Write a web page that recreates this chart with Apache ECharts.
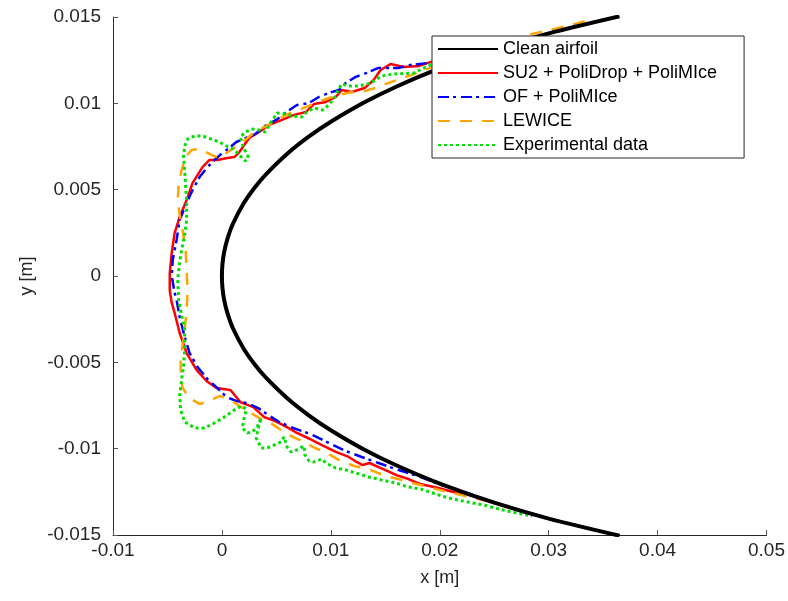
<!DOCTYPE html>
<html><head><meta charset="utf-8">
<script src="https://cdn.jsdelivr.net/npm/echarts@6/dist/echarts.min.js"></script>
<style>html,body{margin:0;padding:0;background:#fff}#c{width:788px;height:601px}</style>
</head><body><div id="c"></div>
<script>
const seriesNames = ['Clean airfoil', 'SU2 + PoliDrop + PoliMIce', 'OF + PoliMIce', 'LEWICE', 'Experimental data'];
const xLimits = [-0.01, 0.05], xStep = 0.01;
const yLimits = [-0.015, 0.015], yStep = 0.005;
const xLabel = 'x [m]', yLabel = 'y [m]';

const cleanAirfoil = [[0.0365,0.01504],[0.03,0.01405],[0.025,0.01313],[0.02,0.01202],[0.016,0.01096],[0.013,0.01003],[0.01,0.00893],[0.008,0.00808],[0.006,0.00708],[0.004,0.00586],[0.003,0.00511],[0.002,0.00421],[0.001,0.00301],[0.0005,0.00214],[0.0002,0.00137],[0.00005,0.00069],[0,0],[0.00005,-0.00069],[0.0002,-0.00137],[0.0005,-0.00214],[0.001,-0.00301],[0.002,-0.00421],[0.003,-0.00511],[0.004,-0.00586],[0.006,-0.00708],[0.008,-0.00808],[0.01,-0.00893],[0.013,-0.01003],[0.016,-0.01096],[0.02,-0.01202],[0.025,-0.01313],[0.03,-0.01405],[0.0365,-0.01504]];

const su2PoliDrop = [[0.025,0.01313],[0.0215,0.0127],[0.01913,0.01239],[0.01804,0.01216],[0.01667,0.01211],[0.01548,0.01228],[0.01457,0.01193],[0.01393,0.01135],[0.0131,0.01089],[0.01192,0.01066],[0.011,0.01077],[0.01046,0.01037],[0.00954,0.01008],[0.00845,0.00996],[0.00772,0.0095],[0.00662,0.00933],[0.00552,0.00904],[0.00434,0.00875],[0.00342,0.00834],[0.00251,0.00799],[0.00205,0.00759],[0.0016,0.00718],[0.00114,0.00689],[0.0005,0.00683],[-0.00041,0.00672],[-0.00114,0.00672],[-0.00178,0.00631],[-0.00269,0.00539],[-0.00324,0.0044],[-0.00388,0.00342],[-0.00434,0.00249],[-0.00461,0.00133],[-0.00479,0.00017],[-0.00479,-0.00081],[-0.00461,-0.00156],[-0.00434,-0.00214],[-0.00388,-0.0033],[-0.00324,-0.00446],[-0.00233,-0.00544],[-0.00142,-0.00608],[-0.0005,-0.00649],[0.00078,-0.0066],[0.00169,-0.0073],[0.00288,-0.00759],[0.00388,-0.00817],[0.00489,-0.0084],[0.00598,-0.00875],[0.00689,-0.00909],[0.00808,-0.00944],[0.00918,-0.00979],[0.01046,-0.01019],[0.01164,-0.01048],[0.01237,-0.01077],[0.01292,-0.01095],[0.01356,-0.01083],[0.01438,-0.01107],[0.01502,-0.01124],[0.01603,-0.01153],[0.01712,-0.01176],[0.01822,-0.01205],[0.01986,-0.01228],[0.02123,-0.01251],[0.0226,-0.01263],[0.025,-0.01313],[0.03,-0.01405],[0.0365,-0.01504]];

const ofPoliMIce = [[0.025,0.01313],[0.0215,0.0127],[0.01895,0.01234],[0.0173,0.01222],[0.01621,0.01205],[0.01438,0.01205],[0.01329,0.01176],[0.01228,0.01153],[0.01137,0.01118],[0.01073,0.01077],[0.00982,0.0106],[0.0089,0.01037],[0.00799,0.01002],[0.00689,0.0099],[0.00607,0.00956],[0.00498,0.00904],[0.00397,0.00869],[0.00306,0.00822],[0.00215,0.00799],[0.00132,0.00776],[0.00068,0.00741],[-0.00005,0.00707],[-0.00068,0.00672],[-0.00132,0.00631],[-0.00205,0.00573],[-0.00269,0.00498],[-0.00324,0.00423],[-0.00388,0.00324],[-0.00416,0.00209],[-0.00452,0.00093],[-0.00461,0],[-0.00434,-0.00098],[-0.00416,-0.00139],[-0.00388,-0.00237],[-0.00342,-0.00353],[-0.00297,-0.00446],[-0.00224,-0.00527],[-0.00132,-0.00597],[-0.00041,-0.00649],[0.00041,-0.00701],[0.00132,-0.00724],[0.00233,-0.00736],[0.00333,-0.00765],[0.00425,-0.00805],[0.00525,-0.00846],[0.00653,-0.0088],[0.00763,-0.00904],[0.00854,-0.00927],[0.00982,-0.00967],[0.01137,-0.01014],[0.01283,-0.01048],[0.01438,-0.01083],[0.01594,-0.01118],[0.01712,-0.01141],[0.01849,-0.0117],[0.02014,-0.01211],[0.02151,-0.01234],[0.025,-0.01313],[0.03,-0.01405],[0.0365,-0.01504]];

const lewice = [[0.0333,0.01475],[0.03242,0.0146],[0.03014,0.01425],[0.02763,0.0139],[0.02352,0.01309],[0.01913,0.01205],[0.01712,0.01158],[0.0153,0.01118],[0.01411,0.01089],[0.01283,0.01066],[0.01192,0.01066],[0.01073,0.01048],[0.00954,0.01025],[0.00863,0.01002],[0.00772,0.00979],[0.0068,0.00956],[0.00589,0.00933],[0.00479,0.00892],[0.0037,0.00857],[0.00269,0.00817],[0.00142,0.00753],[0.00068,0.00724],[-0.00023,0.00683],[-0.00096,0.00701],[-0.00205,0.00736],[-0.00279,0.0073],[-0.00333,0.00689],[-0.0037,0.00614],[-0.00397,0.00527],[-0.00406,0.0044],[-0.00388,0.00353],[-0.00361,0.00266],[-0.00333,0.00151],[-0.00324,0.00035],[-0.00315,-0.00081],[-0.00324,-0.00197],[-0.00342,-0.00313],[-0.00361,-0.004],[-0.00379,-0.00487],[-0.00379,-0.00573],[-0.00361,-0.00649],[-0.00297,-0.00707],[-0.00205,-0.00741],[-0.00114,-0.00724],[-0.00023,-0.00695],[0.00068,-0.00712],[0.0016,-0.00753],[0.00251,-0.00788],[0.00342,-0.00822],[0.00434,-0.00846],[0.00543,-0.00892],[0.00653,-0.00933],[0.00753,-0.00961],[0.00854,-0.00996],[0.00963,-0.01025],[0.01091,-0.01072],[0.01219,-0.01101],[0.01365,-0.01124],[0.01502,-0.01158],[0.01621,-0.01176],[0.01749,-0.01199],[0.01895,-0.01222],[0.02005,-0.0124],[0.02123,-0.01257],[0.025,-0.01313],[0.03,-0.01405],[0.0365,-0.01504]];

const experimental = [[0.02077,0.01262],[0.01894,0.01216],[0.01758,0.01175],[0.01575,0.0117],[0.01465,0.01158],[0.01365,0.01117],[0.01255,0.011],[0.01164,0.011],[0.011,0.01112],[0.01073,0.01083],[0.01036,0.01036],[0.00981,0.0099],[0.00927,0.00961],[0.00845,0.00973],[0.00781,0.0095],[0.00735,0.00921],[0.00662,0.00926],[0.00589,0.00938],[0.00507,0.00944],[0.00452,0.00892],[0.00397,0.00834],[0.00342,0.00845],[0.00278,0.00851],[0.00215,0.00834],[0.00169,0.00805],[0.00196,0.00747],[0.00242,0.00689],[0.00215,0.00666],[0.0016,0.00701],[0.00105,0.00735],[0.00041,0.00753],[-0.00023,0.00776],[-0.00096,0.00793],[-0.00178,0.00811],[-0.00251,0.00811],[-0.00315,0.00793],[-0.00342,0.00753],[-0.00352,0.00689],[-0.00342,0.00614],[-0.00333,0.00515],[-0.00324,0.0044],[-0.00324,0.00324],[-0.00342,0.00237],[-0.0037,0.00151],[-0.00388,0.00081],[-0.00406,-0.00023],[-0.00397,-0.00139],[-0.0037,-0.00226],[-0.00342,-0.00313],[-0.00342,-0.00428],[-0.00352,-0.00515],[-0.0037,-0.00602],[-0.00388,-0.00689],[-0.00379,-0.00776],[-0.00342,-0.00845],[-0.00251,-0.0088],[-0.0016,-0.0088],[-0.00068,-0.00851],[0.00023,-0.00816],[0.00114,-0.00776],[0.00178,-0.00753],[0.00224,-0.0077],[0.00205,-0.00822],[0.00187,-0.0088],[0.00233,-0.00909],[0.00278,-0.00903],[0.00324,-0.00874],[0.00361,-0.00822],[0.00333,-0.0088],[0.00315,-0.00938],[0.00361,-0.00996],[0.00415,-0.00996],[0.00479,-0.00979],[0.00543,-0.00961],[0.00571,-0.00932],[0.00598,-0.0099],[0.00635,-0.01019],[0.00689,-0.01007],[0.00753,-0.00984],[0.00762,-0.01036],[0.00799,-0.01071],[0.00845,-0.01077],[0.00918,-0.0106],[0.00954,-0.01083],[0.01045,-0.01112],[0.01137,-0.01123],[0.01228,-0.01141],[0.01347,-0.01164],[0.01465,-0.01181],[0.01593,-0.01199],[0.01712,-0.01222],[0.01831,-0.01235],[0.01958,-0.01262],[0.02077,-0.01285],[0.02232,-0.01306],[0.02415,-0.01328],[0.02534,-0.01348],[0.02652,-0.01366],[0.0285,-0.0139]];

const FONT = '"Liberation Sans", Arial, Helvetica, sans-serif';
const AX = '#262626';
const FS = 18, TFS = 19;
const fmt = v => String(+v.toFixed(4));

const chart = echarts.init(document.getElementById('c'), null, {renderer: 'canvas'});
chart.setOption({
  animation: false,
  backgroundColor: '#fff',
  grid: {left: 113, right: 18, top: 17, bottom: 66, containLabel: false},
  xAxis: {
    type: 'value', min: xLimits[0], max: xLimits[1], interval: xStep,
    name: xLabel, nameLocation: 'middle', nameGap: 34,
    nameTextStyle: {fontFamily: FONT, fontSize: FS, color: AX},
    axisLine: {show: true, onZero: false, lineStyle: {color: AX, width: 1}},
    axisTick: {show: true, inside: true, length: 5, lineStyle: {color: '#555'}},
    axisLabel: {formatter: fmt, fontFamily: FONT, fontSize: TFS, color: AX, margin: 6},
    splitLine: {show: false}
  },
  yAxis: {
    type: 'value', min: yLimits[0], max: yLimits[1], interval: yStep,
    name: yLabel, nameLocation: 'middle', nameGap: 76, nameRotate: 90,
    nameTextStyle: {fontFamily: FONT, fontSize: FS, color: AX},
    axisLine: {show: true, onZero: false, lineStyle: {color: AX, width: 1}},
    axisTick: {show: true, inside: true, length: 5, lineStyle: {color: '#555'}},
    axisLabel: {formatter: fmt, fontFamily: FONT, fontSize: TFS, color: AX, margin: 12},
    splitLine: {show: false}
  },
  legend: {
    data: seriesNames, orient: 'vertical', left: 432, top: 36,
    itemWidth: 60, itemHeight: 14, itemGap: 4,
    padding: [3, 27, 3, 5],
    backgroundColor: '#fff', borderColor: AX, borderWidth: 1, borderRadius: 0,
    itemStyle: {color: 'transparent', borderColor: 'transparent', borderWidth: 0, opacity: 0},
    textStyle: {fontFamily: FONT, fontSize: FS, color: '#000', lineHeight: 20},
    selectedMode: false
  },
  series: [
    {name: seriesNames[1], type: 'line', data: su2PoliDrop, symbol: 'none', color: '#ff0000', z: 2,
      lineStyle: {color: '#ff0000', width: 2.5, type: 'solid'}},
    {name: seriesNames[2], type: 'line', data: ofPoliMIce, symbol: 'none', color: '#0000ff', z: 2,
      lineStyle: {color: '#0000ff', width: 2.5, type: [11, 4, 3, 5]}},
    {name: seriesNames[3], type: 'line', data: lewice, symbol: 'none', color: '#ffa500', z: 2,
      lineStyle: {color: '#ffa500', width: 2.5, type: [12, 10]}},
    {name: seriesNames[4], type: 'line', data: experimental, symbol: 'none', color: '#00e000', z: 2,
      lineStyle: {color: '#00e000', width: 3, type: [3, 3]}},
    {name: seriesNames[0], type: 'line', data: cleanAirfoil, symbol: 'none', color: '#000000', z: 3, smooth: 0.3,
      lineStyle: {color: '#000000', width: 4, type: 'solid'}}
  ]
});
</script></body></html>
